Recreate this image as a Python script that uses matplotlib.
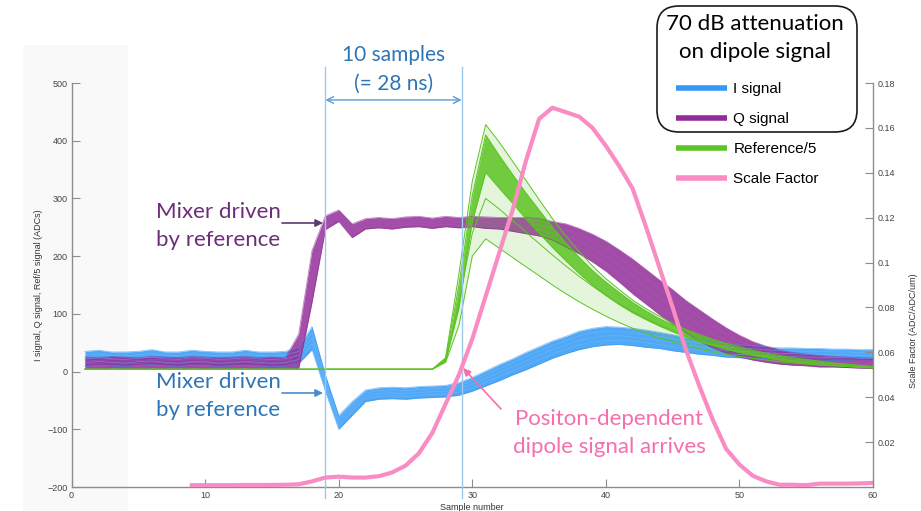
import numpy as np
import matplotlib.pyplot as plt
from matplotlib.patches import FancyBboxPatch, Rectangle
from matplotlib.lines import Line2D

W, H = 921, 511

# ---- data (sample number 1..60) ----
samples = np.arange(1, 61)

i_mid = [22, 24, 22, 21, 23, 25, 22, 21, 24, 23, 21, 22, 24, 22, 21, 22, 28, 58, -20, -88,
         -64, -42, -38, -37, -38, -36, -35, -34, -30, -22, -12, -2, 8, 18, 28, 38, 46, 54, 59, 62,
         62, 60, 57, 54, 50, 46, 43, 40, 37, 35, 34, 33, 31, 31, 30, 30, 29, 29, 28, 28]
i_spread = [13, 13, 12, 13, 12, 13, 12, 13, 13, 12, 13, 12, 13, 12, 13, 13, 14, 20, 14, 12,
            12, 10, 10, 10, 10, 10, 10, 10, 11, 12, 13, 14, 14, 15, 15, 15, 15, 16, 16, 16,
            15, 15, 15, 14, 14, 13, 13, 12, 12, 11, 11, 10, 10, 10, 10, 10, 10, 10, 10, 10]

q_mid = [15, 14, 16, 15, 14, 16, 15, 14, 16, 15, 14, 15, 16, 14, 15, 14, 35, 165, 258, 270,
         244, 256, 258, 256, 259, 260, 257, 260, 258, 260, 258, 257, 255, 253, 250, 244, 236, 226, 214, 200,
         183, 165, 147, 129, 112, 95, 80, 66, 54, 44, 36, 30, 25, 22, 20, 18, 17, 16, 15, 14]
q_spread = [10, 10, 10, 10, 10, 10, 10, 10, 10, 10, 10, 10, 10, 10, 10, 10, 30, 45, 12, 10,
            12, 9, 9, 9, 9, 9, 9, 9, 9, 9, 10, 10, 12, 14, 15, 16, 20, 22, 24, 26,
            28, 30, 30, 30, 30, 28, 27, 25, 22, 19, 16, 14, 12, 11, 10, 10, 9, 9, 9, 9]

ref_baseline = [4, 4, 4, 4, 4, 4, 4, 4, 4, 4, 4, 4, 4, 4, 4, 4, 4, 4, 4, 4, 4, 4, 4, 4, 4, 4, 4]
ref_top = ref_baseline + [24, 170, 330, 428, 398, 365, 332, 298, 265, 235, 208, 183, 161, 142, 124, 109,
                          96, 84, 73, 64, 56, 49, 43, 37, 32, 28, 24, 21, 18, 15, 13, 11, 9]
ref_core_hi = ref_baseline + [22, 150, 305, 410, 375, 342, 310, 280, 250, 223, 198, 175, 155, 137, 120, 105,
                              92, 81, 71, 62, 54, 47, 40, 35, 30, 26, 22, 19, 16, 14, 12, 10, 8]
ref_core_lo = ref_baseline + [18, 110, 260, 345, 318, 292, 265, 240, 215, 192, 170, 150, 132, 116, 102, 90,
                              79, 69, 60, 52, 45, 39, 33, 28, 24, 20, 17, 15, 13, 11, 9, 7, 6]
ref_mid = ref_baseline + [20, 120, 240, 300, 282, 262, 242, 222, 202, 183, 165, 148, 132, 117, 104, 92,
                          81, 71, 62, 54, 47, 41, 35, 30, 26, 22, 19, 16, 14, 12, 10, 8, 7]
ref_low = ref_baseline + [16, 80, 200, 230, 214, 198, 182, 166, 150, 135, 121, 108, 96, 85, 75, 66,
                          58, 51, 45, 39, 34, 30, 26, 23, 20, 17, 15, 13, 11, 10, 9, 8, 7]

sf_samples = np.arange(9, 61)
scale_factor = [0.0008, 0.0008, 0.0008, 0.0008, 0.0009, 0.0009, 0.0009, 0.001, 0.0012, 0.0025,
                0.0042, 0.0046, 0.0042, 0.0042, 0.0048, 0.0065, 0.0095, 0.015, 0.024, 0.037,
                0.050, 0.066, 0.085, 0.104, 0.123, 0.145, 0.164, 0.169, 0.167, 0.165,
                0.160, 0.152, 0.143, 0.133, 0.116, 0.098, 0.080, 0.061, 0.045, 0.030,
                0.017, 0.010, 0.005, 0.0025, 0.001, 0.001, 0.0008, 0.0015, 0.0015, 0.0015,
                0.0016, 0.0018]

left_ticks = [-200, -100, 0, 100, 200, 300, 400, 500]
right_ticks = [0.02, 0.04, 0.06, 0.08, 0.1, 0.12, 0.14, 0.16, 0.18]
x_ticks = [0, 10, 20, 30, 40, 50, 60]

legend_labels = ["I signal", "Q signal", "Reference/5", "Scale Factor"]

C_I = "#3399f5"
C_Q = "#912d98"
C_REF = "#5cc424"
C_SF = "#fa8cc4"
AX_GRAY = "#8c8c8c"
SLIDE_FONT = "Lato"
TICK_FONT = "Liberation Sans"


def fp(px, py):
    # pixel position in the picture -> figure fraction
    return (px / W, 1 - py / H)


fig = plt.figure(figsize=(W / 100, H / 100), dpi=100)
fig.patch.set_facecolor("white")
fig.add_artist(Rectangle(fp(23, 511), 105 / W, 466 / H, transform=fig.transFigure,
                         facecolor="#f9f9f9", edgecolor="none", zorder=-5))

ax = fig.add_axes([71.6 / W, 1 - 487 / H, (873 - 71.6) / W, (487 - 83) / H])
ax.set_facecolor("none")

i_mid_a = np.array(i_mid)
i_spr = np.array(i_spread)
q_mid_a = np.array(q_mid)
q_spr = np.array(q_spread)

# I signal bundle
ax.fill_between(samples, i_mid_a - i_spr, i_mid_a + i_spr, color=C_I, alpha=0.85, lw=0)
for tr in (i_mid_a - i_spr, i_mid_a + i_spr):
    ax.plot(samples, tr, color=C_I, lw=0.6, alpha=0.6)
for tr in (i_mid_a - i_spr / 2, i_mid_a, i_mid_a + i_spr / 2):
    ax.plot(samples, tr, color="#7cc0ff", lw=0.5, alpha=0.5)

# Q signal bundle
ax.fill_between(samples, q_mid_a - q_spr, q_mid_a + q_spr, color=C_Q, alpha=0.85, lw=0)
for tr in (q_mid_a - q_spr, q_mid_a + q_spr):
    ax.plot(samples, tr, color=C_Q, lw=0.6, alpha=0.6)
for tr in (q_mid_a - q_spr / 2, q_mid_a, q_mid_a + q_spr / 2):
    ax.plot(samples, tr, color="#b45cba", lw=0.5, alpha=0.5)

# Reference/5 bundle
ax.fill_between(samples, ref_low, ref_top, color=C_REF, alpha=0.16, lw=0)
ax.fill_between(samples, ref_core_lo, ref_core_hi, color=C_REF, alpha=0.85, lw=0)
for tr in (ref_top, ref_core_hi, ref_core_lo, ref_mid, ref_low):
    ax.plot(samples, tr, color=C_REF, lw=0.7)

ax.set_xlim(0, 60)
ax.set_ylim(-200, 500)
ax.set_xticks(x_ticks)
ax.set_yticks(left_ticks)

ax2 = ax.twinx()
ax2.plot(sf_samples, scale_factor, color=C_SF, lw=3, solid_joinstyle="round")
ax2.set_ylim(0, 0.18)
ax2.set_yticks(right_ticks)
ax2.set_yticklabels([f"{v:g}" for v in right_ticks])

for a in (ax, ax2):
    a.spines["top"].set_visible(False)
    for s in a.spines.values():
        s.set_color(AX_GRAY)
        s.set_linewidth(1)
    a.tick_params(direction="in", length=6, width=0.8, color=AX_GRAY,
                  labelsize=6.5, labelcolor="#444444", pad=3)
    for lab in a.get_xticklabels() + a.get_yticklabels():
        lab.set_fontfamily(TICK_FONT)
ax.spines["right"].set_visible(False)
ax2.spines["left"].set_visible(False)
ax2.spines["bottom"].set_visible(False)

ax.set_xlabel("Sample number", fontsize=6.5, family=TICK_FONT, color="#333333", labelpad=2)
ax.set_ylabel("I signal, Q signal, Ref/5 signal (ADCs)", fontsize=6.5, family=TICK_FONT, color="#333333")
ax.yaxis.set_label_coords(-0.036, 0.5)
ax2.set_ylabel("Scale Factor (ADC/ADC/um)", fontsize=6.5, family=TICK_FONT, color="#333333")
ax2.yaxis.set_label_coords(1.045, 0.386)

# 10 samples marker
for xv in (19, 29.2):
    ax.axvline(xv, ymin=-0.027, ymax=1.04, color="#9cc9ec", lw=1, clip_on=False, zorder=5)
ax.annotate("", xy=(19, 0.958), xytext=(29.2, 0.958), xycoords=ax.get_xaxis_transform(),
            arrowprops=dict(arrowstyle="<->", color="#5b9bd5", lw=1, mutation_scale=12,
                            shrinkA=0, shrinkB=0), annotation_clip=False)
fig.text(*fp(394, 69), "10 samples\n(= 28 ns)", ha="center", va="center", fontsize=15,
         family=SLIDE_FONT, color="#2e75b6", linespacing=1.55)

# mixer annotations
fig.text(*fp(218, 226), "Mixer driven\nby reference", ha="center", va="center", fontsize=16,
         family=SLIDE_FONT, color="#6b2f78", linespacing=1.45)
ax.annotate("", xy=fp(323, 223), xytext=fp(282, 223), xycoords="figure fraction",
            arrowprops=dict(arrowstyle="-|>", color="#5d3a6b", lw=1.2, mutation_scale=11,
                            shrinkA=0, shrinkB=0))
fig.text(*fp(218, 396), "Mixer driven\nby reference", ha="center", va="center", fontsize=16,
         family=SLIDE_FONT, color="#2e75b6", linespacing=1.45)
ax.annotate("", xy=fp(323, 393), xytext=fp(282, 393), xycoords="figure fraction",
            arrowprops=dict(arrowstyle="-|>", color="#4a8ad0", lw=1.2, mutation_scale=11,
                            shrinkA=0, shrinkB=0))

# dipole annotation
fig.text(*fp(609, 433), "Positon-dependent\ndipole signal arrives", ha="center", va="center",
         fontsize=16, family=SLIDE_FONT, color="#f46fac", linespacing=1.45)
ax.annotate("", xy=fp(463, 368), xytext=fp(501, 409), xycoords="figure fraction",
            arrowprops=dict(arrowstyle="-|>", color="#f46fac", lw=1.2, mutation_scale=11,
                            shrinkA=0, shrinkB=0))

# legend with rounded box
box = FancyBboxPatch((657, H - 132), 200, 126, boxstyle="round,pad=0,rounding_size=22",
                     transform=None, facecolor="white", edgecolor="#1a1a1a", lw=1.2, zorder=10)
fig.add_artist(box)
fig.text(*fp(755, 38), "70 dB attenuation\non dipole signal", ha="center", va="center",
         fontsize=16, family=SLIDE_FONT, color="black", linespacing=1.5, zorder=11)
handles = [Line2D([], [], color=c, lw=4, solid_capstyle="butt") for c in (C_I, C_Q, C_REF, C_SF)]
leg = fig.legend(handles, legend_labels, loc="upper left", bbox_to_anchor=fp(676, 82),
                 frameon=False, borderpad=0, borderaxespad=0, handlelength=3.35,
                 handletextpad=0.4, labelspacing=1.05, prop={"family": TICK_FONT, "size": 11})
leg.set_zorder(12)

fig.savefig("out.png", dpi=100)
